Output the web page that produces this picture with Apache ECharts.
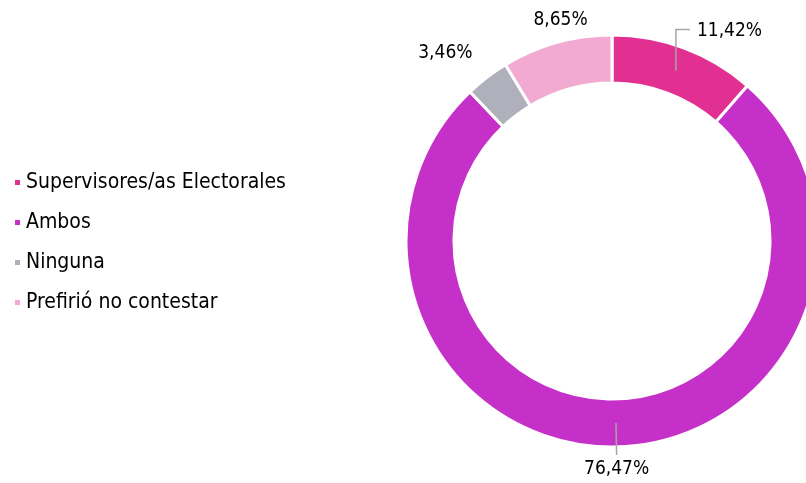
<!DOCTYPE html>
<html>
<head>
<meta charset="utf-8">
<script src="https://cdn.jsdelivr.net/npm/echarts@6/dist/echarts.min.js"></script>
<style>
html,body{margin:0;padding:0;background:#fff;}
#chart{width:806px;height:483px;}
</style>
</head>
<body>
<div id="chart"></div>
<script>
// categorias y valores (%)
var categorias = ['Supervisores/as Electorales', 'Ambos', 'Ninguna', 'Prefirió no contestar'];
var valores = [11.42, 76.47, 3.46, 8.65];
var colores = ['#E23092', '#C530C8', '#B0B0BD', '#F2AAD2'];
var largoLinea = [44, 32, 53, 47];   // largo de la linea guia de cada etiqueta
var verLinea = [1, 1, 0, 0];
var ajusteX = [0, 0, -24, 10];        // pequeños ajustes de las etiquetas sin linea
var ajusteY = [0, 0, -1, 0];

var fuente = "'DejaVu Sans Condensed', 'DejaVu Sans', sans-serif";

var datosAnillo = [];
var datosEtiq = [];
for (var i = 0; i < categorias.length; i++) {
    datosAnillo.push({name: categorias[i], value: valores[i], itemStyle: {color: colores[i]}});
    datosEtiq.push({
        name: categorias[i],
        value: valores[i],
        labelLine: {length: largoLinea[i], lineStyle: {opacity: verLinea[i]}}
    });
}

function fmt(p) {
    return p.value.toFixed(2).replace('.', ',') + '%';
}

var option = {
    animation: false,
    legend: {
        orient: 'vertical',
        left: 8,
        top: 167,
        icon: 'rect',
        itemWidth: 7,
        itemHeight: 7,
        itemGap: 19,
        textStyle: {fontSize: 21, color: '#000', fontFamily: fuente},
        data: categorias
    },
    series: [
        {
            // anillo
            type: 'pie',
            center: [612, 241],
            radius: [158, 206],
            startAngle: 90,
            clockwise: true,
            itemStyle: {borderColor: '#fff', borderWidth: 3},
            label: {show: false},
            labelLine: {show: false},
            data: datosAnillo
        },
        {
            // solo etiquetas, lineas desde la mitad del anillo
            type: 'pie',
            center: [612, 241],
            radius: [181, 182],
            startAngle: 90,
            clockwise: true,
            silent: true,
            z: 3,
            avoidLabelOverlap: false,
            itemStyle: {color: 'rgba(0,0,0,0)'},
            label: {
                show: true,
                position: 'outside',
                fontSize: 19,
                color: '#000',
                fontFamily: fuente,
                formatter: fmt
            },
            labelLine: {
                show: true,
                length: 30,
                length2: 0,
                lineStyle: {color: '#a6a6a6', width: 1.5}
            },
            labelLayout: function (params) {
                var p = params.labelLinePoints;
                if (!p) return {};
                var i = params.dataIndex;
                if (i === 0) {
                    return {
                        labelLinePoints: [p[0], [p[0][0], p[1][1]], [p[0][0] + 14, p[1][1]]],
                        x: p[0][0] + 21, y: p[1][1] + 2,
                        align: 'left', verticalAlign: 'middle'
                    };
                }
                if (i === 1) {
                    return {
                        labelLinePoints: [p[0], p[1], p[1]],
                        x: p[1][0], y: p[1][1] + 5,
                        align: 'center', verticalAlign: 'top'
                    };
                }
                return {
                    x: p[1][0] + ajusteX[i], y: p[1][1] + ajusteY[i],
                    align: 'center', verticalAlign: 'middle'
                };
            },
            data: datosEtiq
        }
    ]
};

var chart = echarts.init(document.getElementById('chart'));
chart.setOption(option);
</script>
</body>
</html>
